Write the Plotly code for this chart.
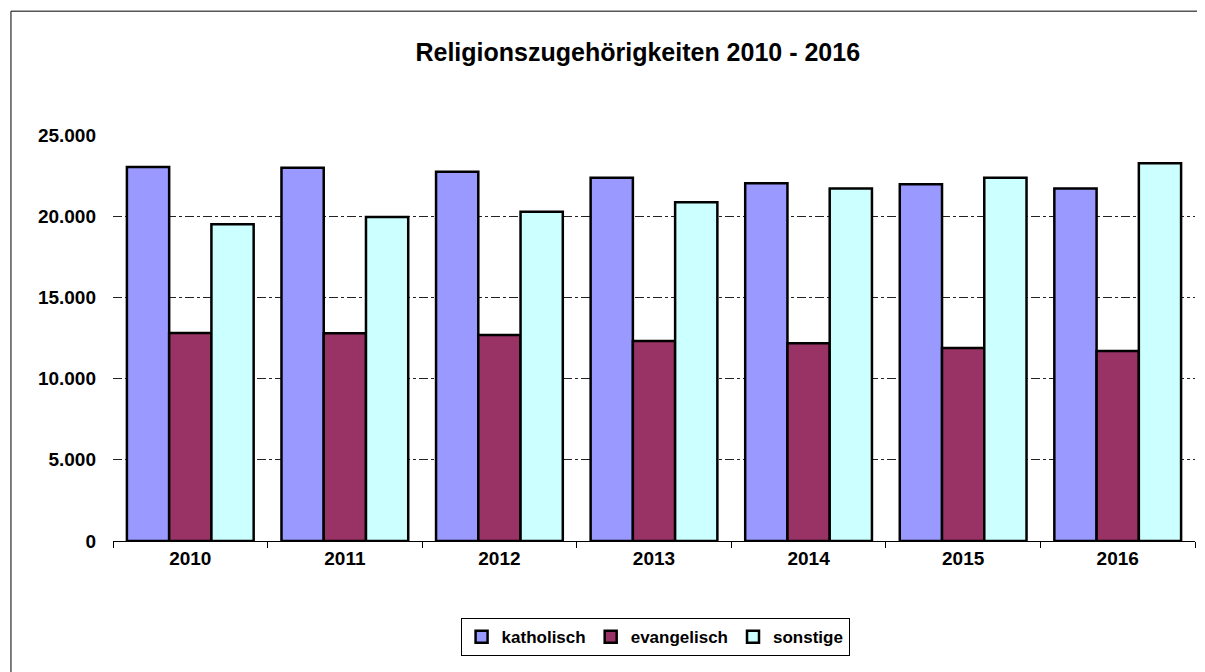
import plotly.graph_objects as go

years = ["2010", "2011", "2012", "2013", "2014", "2015", "2016"]
katholisch = [23030, 22990, 22740, 22370, 22030, 21960, 21710]
evangelisch = [12810, 12800, 12680, 12320, 12170, 11880, 11700]
sonstige = [19500, 19950, 20280, 20860, 21710, 22370, 23260]

series_names = ["katholisch", "evangelisch", "sonstige"]
colors = ["#9999FF", "#993366", "#CCFFFF"]

font_family = "Liberation Sans, Arial, sans-serif"

fig = go.Figure()
for name, vals, col in zip(series_names, [katholisch, evangelisch, sonstige], colors):
    fig.add_trace(go.Bar(
        x=years, y=vals, name=name,
        marker=dict(color=col, line=dict(color="black", width=2.5)),
    ))

fig.update_layout(
    width=1197, height=664,
    paper_bgcolor="white", plot_bgcolor="white",
    margin=dict(l=105, r=10, t=127, b=131),
    barmode="group", bargap=0.18, bargroupgap=0,
    separators=",.",
    title=dict(text="<b>Religionszugehörigkeiten 2010 - 2016</b>",
               xref="paper", x=0.485, xanchor="center",
               y=1 - 44 / 664, yanchor="middle",
               font=dict(family=font_family, size=25, color="black")),
    font=dict(family=font_family, color="black"),
    xaxis=dict(
        showline=True, linecolor="black", linewidth=1,
        ticks="outside", ticklen=6, tickcolor="black", tickson="boundaries",
        tickfont=dict(family=font_family, size=19, color="black", weight="bold"),
        showgrid=False,
    ),
    yaxis=dict(
        range=[0, 25000], tickvals=[0, 5000, 10000, 15000, 20000, 25000],
        tickformat=",.0f",
        showgrid=True, gridcolor="#222222", gridwidth=1, griddash="dashdot",
        showline=False, zeroline=False,
        ticks="", ticklabelstandoff=16,
        tickfont=dict(family=font_family, size=19, color="black", weight="bold"),
    ),
    legend=dict(
        orientation="h", x=0.501, xanchor="center", y=-0.19, yanchor="top",
        bordercolor="black", borderwidth=1,
        font=dict(family=font_family, size=17, color="black", weight="bold"),
        itemwidth=30,
    ),
    shapes=[
        dict(type="line", xref="paper", yref="paper",
             x0=-0.0943, x1=-0.0943, y0=-0.4, y1=1.305,
             line=dict(color="black", width=1), layer="below"),
        dict(type="line", xref="paper", yref="paper",
             x0=-0.0943, x1=1.005, y0=1.305, y1=1.305,
             line=dict(color="black", width=1), layer="below"),
    ],
)

fig.write_html("out.html")
